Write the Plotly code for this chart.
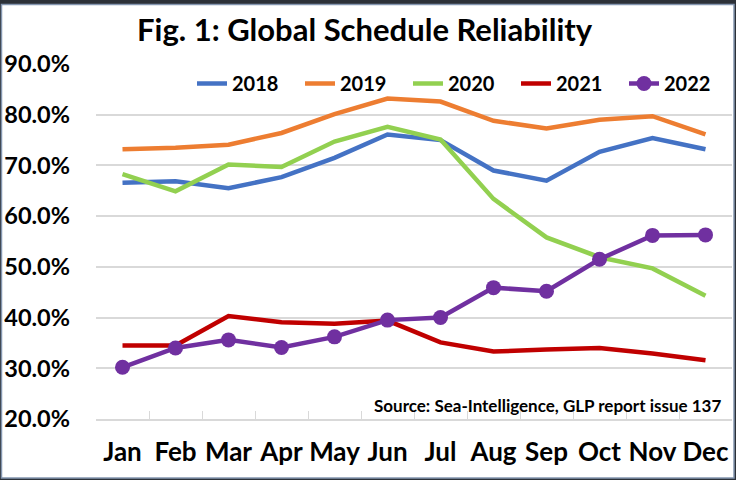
import plotly.graph_objects as go

months = ["Jan", "Feb", "Mar", "Apr", "May", "Jun", "Jul", "Aug", "Sep", "Oct", "Nov", "Dec"]
y2018 = [66.6, 66.9, 65.5, 67.7, 71.5, 76.1, 75.0, 69.0, 67.0, 72.7, 75.4, 73.2]
y2019 = [73.2, 73.5, 74.1, 76.4, 80.1, 83.2, 82.6, 78.8, 77.3, 79.0, 79.7, 76.1]
y2020 = [68.3, 64.9, 70.2, 69.7, 74.7, 77.6, 75.1, 63.4, 55.8, 51.9, 49.7, 44.3]
y2021 = [34.5, 34.5, 40.3, 39.1, 38.8, 39.4, 35.1, 33.3, 33.7, 34.0, 32.9, 31.6]
y2022 = [30.2, 34.0, 35.6, 34.1, 36.2, 39.5, 40.0, 45.9, 45.2, 51.5, 56.2, 56.3]

series = [
    ("2018", y2018, "#4472C4", False),
    ("2019", y2019, "#ED7D31", False),
    ("2020", y2020, "#92D050", False),
    ("2021", y2021, "#C00000", False),
    ("2022", y2022, "#7030A0", True),
]

FONT = "Lato"
L, R, T, B = 96, 4, 64, 61
W, H = 736, 480
pw = W - L - R
ph = H - T - B

def px_x(px):
    return (px - L) / pw

def px_y(py):
    return (H - B - py) / ph

fig = go.Figure()
for name, vals, color, mk in series:
    fig.add_trace(go.Scatter(
        x=months, y=[v / 100 for v in vals], name=name,
        mode="lines+markers" if mk else "lines",
        line=dict(color=color, width=4.5),
        marker=dict(size=15, color=color) if mk else None,
    ))

fig.update_layout(
    width=W, height=H,
    margin=dict(l=L, r=R, t=T, b=B),
    paper_bgcolor="#2c3138",
    plot_bgcolor="rgba(0,0,0,0)",
    showlegend=True,
    legend=dict(
        orientation="h", x=px_x(192), y=px_y(64), xanchor="left", yanchor="top",
        font=dict(family=FONT, size=20, color="#000000", weight="bold"),
        bgcolor="rgba(0,0,0,0)", entrywidth=63, traceorder="normal",
    ),
    xaxis=dict(
        type="category", tickson="boundaries", ticks="inside", ticklen=8,
        tickcolor="#d9d9d9", showline=True, linecolor="#d9d9d9", linewidth=1.5,
        showgrid=False, range=[-0.5, 11.5], tickangle=0,
        tickfont=dict(family=FONT, size=26, color="#000000", weight="bold"),
        ticklabelstandoff=9,
    ),
    yaxis=dict(
        range=[0.2, 0.9], dtick=0.1, tick0=0.2, tickformat=".1%",
        showgrid=True, gridcolor="#d9d9d9", gridwidth=1.5, zeroline=False,
        tickfont=dict(family=FONT, size=23.5, color="#000000", weight="bold"),
        ticklabelstandoff=25,
    ),
    shapes=[
        dict(type="rect", xref="paper", yref="paper", layer="below",
             x0=px_x(1.5), x1=px_x(734), y0=px_y(478), y1=px_y(4.5),
             fillcolor="#ffffff", line=dict(color="#8496b0", width=1.5)),
    ],
    annotations=[
        dict(text="Fig. 1: Global Schedule Reliability", xref="paper", yref="paper",
             x=px_x(365), y=px_y(29), xanchor="center", yanchor="middle", showarrow=False,
             font=dict(family=FONT, size=31, color="#000000", weight="bold")),
        dict(text="Source: Sea-Intelligence, GLP report issue 137", xref="paper", yref="paper",
             x=px_x(723), y=px_y(405), xanchor="right", yanchor="middle", showarrow=False,
             font=dict(family=FONT, size=17, color="#000000", weight="bold")),
    ],
)

fig.write_html("out.html", config={"displayModeBar": False},
               post_script="document.body.style.margin='0';document.body.style.overflow='hidden';")
